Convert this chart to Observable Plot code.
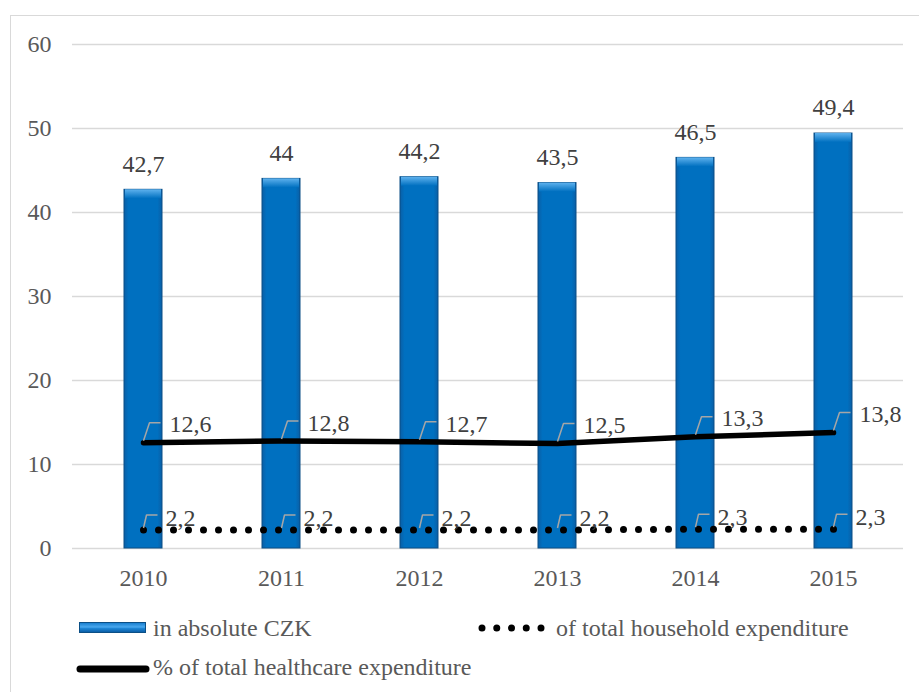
<!DOCTYPE html>
<html>
<head>
<meta charset="utf-8">
<script src="https://cdn.jsdelivr.net/npm/d3@7"></script>
<script src="https://cdn.jsdelivr.net/npm/@observablehq/plot@0.6"></script>
<style>
  html, body { margin: 0; padding: 0; background: #fff; }
  body { position: relative; width: 919px; height: 692px; overflow: hidden;
         font-family: "Liberation Serif", "Times New Roman", serif; }
  #frame { position: absolute; left: 10px; top: 15px; width: 1000px; height: 1000px;
           border: 1.5px solid #d9d9d9; box-sizing: border-box; }
  #chart { position: absolute; left: 0; top: 0; }
  .item { position: absolute; font-size: 24px; line-height: 24px; color: #595959; white-space: nowrap;
          font-family: "Liberation Serif", "Times New Roman", serif; }
  .swatch { position: absolute; }
</style>
</head>
<body>
<div id="frame"></div>
<div id="chart"></div>
<div id="legend"></div>
<script>
// Out-of-pocket spending on medicines, Czech Republic
const years = ["2010", "2011", "2012", "2013", "2014", "2015"];
const absoluteCZK = [42.7, 44, 44.2, 43.5, 46.5, 49.4];          // bn CZK
const shareHealthcare = [12.6, 12.8, 12.7, 12.5, 13.3, 13.8];    // % of total healthcare expenditure
const shareHousehold = [2.2, 2.2, 2.2, 2.2, 2.3, 2.3];           // % of total household expenditure
const yTicks = [0, 10, 20, 30, 40, 50, 60];
const seriesNames = ["in absolute CZK", "of total household expenditure", "% of total healthcare expenditure"];

const rows = years.map((year, i) => ({
  year, czk: absoluteCZK[i], health: shareHealthcare[i], house: shareHousehold[i]
}));

// Czech decimal comma
const fmt = v => String(v).replace(".", ",");

// Callout leader: short slanted stroke up from the point, then a horizontal tail
function leader(run, rise, tail) {
  return context => {
    let pts = [];
    return {
      areaStart() {}, areaEnd() {},
      lineStart() { pts = []; },
      point(x, y) { pts.push([+x, +y]); },
      lineEnd() {
        const [x, y] = pts[0];
        context.moveTo(x, y - 2);
        context.lineTo(x + run, y - rise);
        context.lineTo(x + run + tail, y - rise);
      }
    };
  };
}

const serif = "'Liberation Serif', 'Times New Roman', serif";
const labelFill = "#404040";

const chart = Plot.plot({
  width: 919,
  height: 600,
  marginTop: 44,
  marginBottom: 52,
  marginLeft: 72,
  marginRight: 16,
  style: {
    fontFamily: serif,
    fontSize: "24px",
    color: "#595959",
    background: "transparent",
    overflow: "visible"
  },
  x: { domain: years, type: "band", paddingInner: 0.726, paddingOuter: 0.363,
       label: null, tickSize: 0, tickPadding: 20 },
  y: { domain: [0, 60], ticks: yTicks, label: null, tickSize: 0, tickPadding: 21 },
  marks: [
    Plot.ruleY(yTicks, { stroke: "#d9d9d9", strokeWidth: 1.5 }),
    Plot.barY(rows, { x: "year", y: "czk", fill: "url(#barBody)",
                      stroke: "#0b4f86", strokeWidth: 1, ariaLabel: "bars" }),
    Plot.barY(rows, { x: "year", y1: "czk", y2: "czk", insetBottom: -9,
                      insetLeft: 1, insetRight: 1, fill: "url(#barTop)", ariaLabel: "bevel" }),
    Plot.text(rows, { x: "year", y: "czk", text: d => fmt(d.czk), dy: -26,
                      fill: labelFill, fontSize: 24, fontFamily: serif }),
    // soft shadows under the two share lines
    Plot.line(rows, { x: "year", y: "health", stroke: "#000", strokeOpacity: 0.3, strokeWidth: 6,
                      dy: 4, strokeLinecap: "round", ariaLabel: "health-shadow" }),
    Plot.line(rows, { x: "year", y: "house", stroke: "#000", strokeOpacity: 0.25, strokeWidth: 7,
                      dy: 4, strokeDasharray: "0 15", strokeLinecap: "round", ariaLabel: "house-shadow" }),
    Plot.line(rows, { x: "year", y: "health", stroke: "#000", strokeWidth: 5.5,
                      strokeLinecap: "round", strokeLinejoin: "round" }),
    Plot.line(rows, { x: "year", y: "house", stroke: "#000", strokeWidth: 7,
                      strokeDasharray: "0 15", strokeLinecap: "round" }),
    Plot.link(rows, { x1: "year", x2: "year", y1: "health", y2: "health",
                      curve: leader(6, 20, 11), stroke: "#a6a6a6", strokeWidth: 1.5 }),
    Plot.link(rows, { x1: "year", x2: "year", y1: "house", y2: "house",
                      curve: leader(3, 15, 11), stroke: "#a6a6a6", strokeWidth: 1.5 }),
    Plot.text(rows, { x: "year", y: "health", text: d => fmt(d.health), dx: 26, dy: -18,
                      textAnchor: "start", fill: labelFill, fontSize: 24, fontFamily: serif }),
    Plot.text(rows, { x: "year", y: "house", text: d => fmt(d.house), dx: 22, dy: -12,
                      textAnchor: "start", fill: labelFill, fontSize: 24, fontFamily: serif })
  ]
});

// Gradients and blur filter for the bevelled bars and shadows
const svgSel = d3.select(chart);
const defs = svgSel.insert("defs", ":first-child");
const bodyGrad = defs.append("linearGradient").attr("id", "barBody")
  .attr("x1", "0").attr("x2", "1").attr("y1", "0").attr("y2", "0");
bodyGrad.append("stop").attr("offset", "0").attr("stop-color", "#0a5fa6");
bodyGrad.append("stop").attr("offset", "0.12").attr("stop-color", "#0070c0");
bodyGrad.append("stop").attr("offset", "0.88").attr("stop-color", "#0070c0");
bodyGrad.append("stop").attr("offset", "1").attr("stop-color", "#0a5fa6");
const bevelGrad = defs.append("linearGradient").attr("id", "barTop")
  .attr("x1", "0").attr("x2", "0").attr("y1", "0").attr("y2", "1");
bevelGrad.append("stop").attr("offset", "0").attr("stop-color", "#5fb2ee");
bevelGrad.append("stop").attr("offset", "1").attr("stop-color", "#0070c0");
const blur = defs.append("filter").attr("id", "soft")
  .attr("filterUnits", "userSpaceOnUse")
  .attr("x", 0).attr("y", 0).attr("width", 919).attr("height", 600);
blur.append("feGaussianBlur").attr("stdDeviation", 2.5);

svgSel.select("g[aria-label='bars']").style("filter", "drop-shadow(0 0 3px rgba(0,0,0,0.35))");
svgSel.select("g[aria-label='health-shadow']").attr("filter", "url(#soft)");
svgSel.select("g[aria-label='house-shadow']").attr("filter", "url(#soft)");

document.getElementById("chart").appendChild(chart);

// Legend below the plot
const legend = document.getElementById("legend");
function addText(text, left, centerY) {
  const el = document.createElement("div");
  el.className = "item";
  el.textContent = text;
  el.style.left = left + "px";
  el.style.top = (centerY - 13) + "px";
  legend.appendChild(el);
}

// bar swatch
const barSw = document.createElement("div");
barSw.className = "swatch";
Object.assign(barSw.style, {
  left: "79px", top: "622px", width: "67px", height: "11px", boxSizing: "border-box",
  border: "1px solid #0b4f86",
  background: "linear-gradient(#1a80d0, #4aa8ee 45%, #1e86d6 60%, #0a5ea6)"
});
legend.appendChild(barSw);
addText(seriesNames[0], 153, 629);

// dotted swatch
const dotSw = d3.create("svg").attr("class", "swatch")
  .attr("width", 70).attr("height", 14)
  .style("left", "476px").style("top", "621px");
dotSw.append("line").attr("x1", 6).attr("x2", 66).attr("y1", 7).attr("y2", 7)
  .attr("stroke", "#000").attr("stroke-width", 7).attr("stroke-linecap", "round")
  .attr("stroke-dasharray", "0 14.75");
legend.appendChild(dotSw.node());
addText(seriesNames[1], 556, 629);

// solid line swatch
const lineSw = d3.create("svg").attr("class", "swatch")
  .attr("width", 80).attr("height", 14)
  .style("left", "72px").style("top", "662px");
lineSw.append("line").attr("x1", 8).attr("x2", 74).attr("y1", 7).attr("y2", 7)
  .attr("stroke", "#000").attr("stroke-width", 7).attr("stroke-linecap", "round");
legend.appendChild(lineSw.node());
addText(seriesNames[2], 153, 668);
</script>
</body>
</html>
